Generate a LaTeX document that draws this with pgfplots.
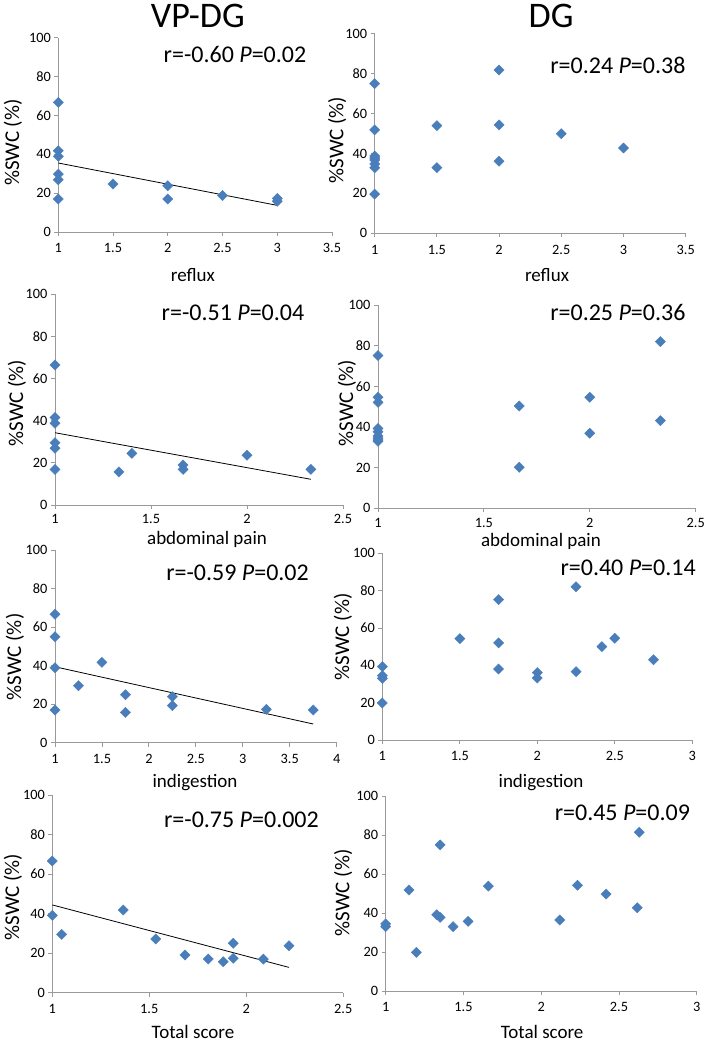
\documentclass[border=0pt]{standalone}
\usepackage{pgfplots}
\pgfplotsset{compat=1.18}
\usepackage{fontspec}
\setmainfont{Carlito}
\definecolor{mblue}{HTML}{4A7EBB}
\definecolor{axgray}{HTML}{9A9A9A}
\tikzset{ann/.style={font=\fontsize{24}{28}\selectfont}}
\pgfplotsset{
  excel/.style={
    scale only axis, anchor=south west,
    axis x line*=bottom, axis y line*=left,
    xtick pos=left, ytick pos=left,
    axis line style={draw=axgray, line width=0.9pt},
    tick style={draw=axgray, line width=0.9pt},
    tick align=outside, major tick length=4pt,
    ymin=0, ymax=100, ytick={0,20,40,60,80,100},
    xmin=1, clip=false,
    tick label style={font=\fontsize{14.3}{16}\selectfont},
    xticklabel style={yshift=-4pt},
    /pgf/number format/assume math mode=true,
    xlabel style={font=\fontsize{19}{22}\selectfont, anchor=center},
    ylabel style={font=\fontsize{21}{24}\selectfont, anchor=center},
    ylabel={\%SWC (\%)},
  },
  pts/.style={only marks, mark=square*, mark size=3.6pt,
    mark options={rotate=45, fill=mblue, draw=mblue}},
  trend/.style={black, line width=0.8pt, no marks},
}
\begin{document}
\begin{tikzpicture}
\path[use as bounding box] (0,0) rectangle (708pt,1042pt);

% ---------- Row 1 left: VP-DG reflux
\begin{axis}[excel, at={(58.3pt,810pt)}, width=273.7pt, height=194.3pt,
  xmax=3.5, xtick={1,1.5,2,2.5,3,3.5},
  xlabel={reflux}, xlabel style={at={(axis description cs:0.492,-0.221)}},
  ylabel style={at={(axis description cs:-0.1655,0.46)}},
  title={VP-DG}, title style={at={(axis description cs:0.51,1.082)}, anchor=center, font=\fontsize{36}{40}\selectfont}]
\addplot[pts] coordinates {(1,66.7) (1,41.8) (1,38.9) (1,29.8) (1,26.9) (1,17.0) (1.5,24.7) (2,23.8) (2,17.0) (2.5,18.8) (3,17.3) (3,15.8)};
\addplot[trend] coordinates {(1,35.5) (3,13.7)};
\node[ann] at (axis description cs:0.6456,0.911) {r=-0.60 \textit{P}=0.02};
\end{axis}

% ---------- Row 1 right: DG reflux
\begin{axis}[excel, at={(374.7pt,808.7pt)}, width=311pt, height=199.6pt,
  xmax=3.5, xtick={1,1.5,2,2.5,3,3.5},
  xlabel={reflux}, xlabel style={at={(axis description cs:0.554,-0.209)}},
  ylabel style={at={(axis description cs:-0.121,0.467)}},
  title={DG}, title style={at={(axis description cs:0.567,1.06)}, anchor=center, font=\fontsize{36}{40}\selectfont}]
\addplot[pts] coordinates {(1,75) (1,51.8) (1,38.7) (1,37.7) (1,36.7) (1,34.7) (1,32.8) (1,19.6) (1.5,53.9) (1.5,32.9) (2,81.8) (2,54.3) (2,36.1) (2.5,49.9) (3,42.7)};
\node[ann] at (axis description cs:0.782,0.843) {r=0.24 \textit{P}=0.38};
\end{axis}

% ---------- Row 2 left: VP-DG abdominal pain
\begin{axis}[excel, at={(55pt,537pt)}, width=288pt, height=210.7pt,
  xmax=2.5, xtick={1,1.5,2,2.5}, xticklabel style={yshift=2pt},
  xlabel={abdominal pain}, xlabel style={at={(axis description cs:0.528,-0.163)}},
  ylabel style={at={(axis description cs:-0.132,0.484)}}]
\addplot[pts] coordinates {(1,66.5) (1,41.5) (1,38.8) (1,29.6) (1,26.9) (1,16.9) (1.333,15.7) (1.4,24.5) (1.667,19.0) (1.667,16.9) (2,23.6) (2.333,16.9)};
\addplot[trend] coordinates {(1,34.3) (2.333,12.2)};
\node[ann] at (axis description cs:0.618,0.911) {r=-0.51 \textit{P}=0.04};
\end{axis}

% ---------- Row 2 right: DG abdominal pain
\begin{axis}[excel, at={(378pt,533.7pt)}, width=317.7pt, height=203.3pt,
  xmax=2.5, xtick={1,1.5,2,2.5}, xticklabel style={yshift=2pt},
  xlabel={abdominal pain}, xlabel style={at={(axis description cs:0.513,-0.163)}},
  ylabel style={at={(axis description cs:-0.0976,0.518)}}]
\addplot[pts] coordinates {(1,75.1) (1,54.6) (1,52.1) (1,39.3) (1,37.7) (1,35.6) (1,34.5) (1,33.6) (1,33.0) (1.667,50.3) (1.667,20.2) (2,54.6) (2,36.9) (2.333,82.0) (2.333,43.1)};
\node[ann] at (axis description cs:0.755,0.961) {r=0.25 \textit{P}=0.36};
\end{axis}

% ---------- Row 3 left: VP-DG indigestion
\begin{axis}[excel, at={(55pt,299.3pt)}, width=281.7pt, height=192.7pt,
  xmax=4, xtick={1,1.5,2,2.5,3,3.5,4},
  xlabel={indigestion}, xlabel style={at={(axis description cs:0.497,-0.209)}},
  ylabel style={at={(axis description cs:-0.142,0.445)}}]
\addplot[pts] coordinates {(1,66.6) (1,55.0) (1,38.9) (1,17.0) (1.25,29.6) (1.5,41.7) (1.75,24.9) (1.75,15.7) (2.25,23.9) (2.25,19.2) (3.25,17.3) (3.75,17.0)};
\addplot[trend] coordinates {(1,39.4) (3.75,9.7)};
\node[ann] at (axis description cs:0.648,0.881) {r=-0.59 \textit{P}=0.02};
\end{axis}

% ---------- Row 3 right: DG indigestion
\begin{axis}[excel, at={(382.3pt,302pt)}, width=310pt, height=186.7pt,
  xmax=3, xtick={1,1.5,2,2.5,3},
  xlabel={indigestion}, xlabel style={at={(axis description cs:0.512,-0.230)}},
  ylabel style={at={(axis description cs:-0.127,0.552)}}]
\addplot[pts] coordinates {(1,39.3) (1,34.5) (1,33.0) (1,19.8) (1.5,54.3) (1.75,75.2) (1.75,52.0) (1.75,38.0) (2,36.1) (2,33.2) (2.25,82.1) (2.25,36.6) (2.417,50.0) (2.5,54.5) (2.75,43.0)};
\node[ann] at (axis description cs:0.793,0.921) {r=0.40 \textit{P}=0.14};
\end{axis}

% ---------- Row 4 left: VP-DG total score
\begin{axis}[excel, at={(52.3pt,49.3pt)}, width=291pt, height=197.7pt,
  xmax=2.5, xtick={1,1.5,2,2.5},
  xlabel={Total score}, xlabel style={at={(axis description cs:0.4835,-0.199)}},
  ylabel style={at={(axis description cs:-0.135,0.484)}}]
\addplot[pts] coordinates {(1,66.6) (1,39.1) (1.048,29.5) (1.366,41.8) (1.533,27.2) (1.684,19.1) (1.804,17.0) (1.881,15.7) (1.933,25.0) (1.933,17.4) (2.088,17.0) (2.22,23.8)};
\addplot[trend] coordinates {(1,44.4) (2.22,12.8)};
\node[ann] at (axis description cs:0.650,0.874) {r=-0.75 \textit{P}=0.002};
\end{axis}

% ---------- Row 4 right: DG total score
\begin{axis}[excel, at={(385.7pt,51pt)}, width=311pt, height=195pt,
  xmax=3, xtick={1,1.5,2,2.5,3},
  xlabel={Total score}, xlabel style={at={(axis description cs:0.503,-0.210)}},
  ylabel style={at={(axis description cs:-0.137,0.503)}}]
\addplot[pts] coordinates {(1,34.4) (1,33.0) (1.15,51.8) (1.197,19.8) (1.328,39.1) (1.35,37.8) (1.35,74.9) (1.433,33.0) (1.53,35.7) (1.66,53.8) (2.119,36.4) (2.233,54.2) (2.417,49.7) (2.618,42.7) (2.63,81.4)};
\node[ann] at (axis description cs:0.761,0.913) {r=0.45 \textit{P}=0.09};
\end{axis}
\end{tikzpicture}
\end{document}
